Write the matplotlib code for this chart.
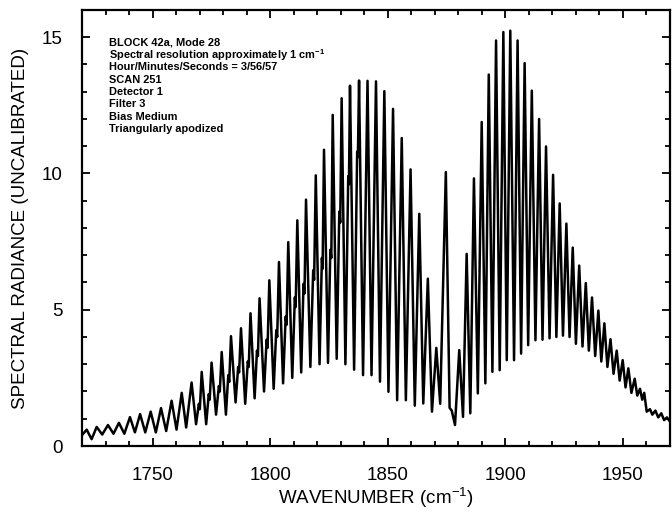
import matplotlib
matplotlib.use('Agg')
import matplotlib.pyplot as plt
import numpy as np
from matplotlib.ticker import MultipleLocator

plt.rcParams['font.family'] = ['Liberation Sans', 'DejaVu Sans']
plt.rcParams['mathtext.fontset'] = 'custom'
plt.rcParams['mathtext.rm'] = 'Liberation Sans'
plt.rcParams['mathtext.bf'] = 'Liberation Sans:bold'

# P branch (peak / trough / satellite vertices)
p_wn = [1720.0, 1722.0, 1724.1, 1726.25, 1728.6, 1731.05, 1733.4, 1735.7, 1738.0, 1740.4,
        1742.5, 1744.7, 1746.9, 1749.2, 1751.4, 1753.6, 1755.8, 1758.1, 1760.2, 1762.4,
        1764.3, 1766.6,
        1768.5, 1769.7, 1770.1, 1770.9,
        1772.8, 1773.9, 1774.3, 1775.1,
        1777.0, 1778.2, 1778.6, 1779.4,
        1781.2, 1782.2, 1782.6, 1783.35,
        1785.3, 1786.4, 1786.8, 1787.6,
        1789.4, 1790.5, 1790.9, 1791.65,
        1793.4, 1794.4, 1794.8, 1795.5,
        1797.4, 1798.5, 1798.9, 1799.65,
        1801.5, 1802.6, 1803.0, 1803.75,
        1805.5, 1806.6, 1807.0, 1807.7,
        1809.4, 1810.5, 1810.85, 1811.55,
        1813.2, 1814.2, 1814.6, 1815.25,
        1817.1, 1818.3, 1818.7, 1819.4,
        1821.0, 1822.0, 1822.3, 1822.9,
        1824.6, 1825.6, 1826.0, 1826.6,
        1828.3, 1829.4, 1829.8, 1830.4,
        1832.0, 1833.2, 1833.5, 1833.95,
        1835.7, 1837.0, 1837.3, 1837.8,
        1839.5, 1841.4, 1843.1, 1845.0, 1846.7, 1848.55, 1850.3, 1852.25,
        1854.0, 1855.95, 1857.7, 1859.7, 1861.5, 1863.4, 1865.1, 1867.05,
        1868.8, 1870.65, 1872.3]
p_rad = [0.40, 0.60, 0.25, 0.70, 0.42, 0.77, 0.45, 0.85, 0.45, 1.06,
         0.50, 1.17, 0.50, 1.26, 0.50, 1.39, 0.55, 1.66, 0.60, 1.95,
         0.68, 2.33,
         0.80, 1.55, 1.35, 2.72,
         0.80, 1.90, 1.70, 3.06,
         1.15, 2.20, 2.00, 3.45,
         1.15, 2.60, 2.35, 4.03,
         1.60, 2.90, 2.70, 4.32,
         1.55, 3.10, 2.90, 4.87,
         1.75, 3.50, 3.30, 5.42,
         2.00, 3.90, 3.60, 6.08,
         2.10, 4.25, 4.00, 6.75,
         2.30, 4.75, 4.45, 7.48,
         2.50, 5.45, 5.10, 8.28,
         2.70, 5.95, 5.60, 9.04,
         2.90, 6.45, 6.10, 9.93,
         3.00, 6.90, 6.50, 10.87,
         3.05, 7.20, 6.90, 12.15,
         3.20, 8.60, 8.20, 12.76,
         3.00, 9.90, 9.60, 13.22,
         2.80, 10.8, 10.6, 13.41,
         2.60, 13.40, 2.60, 13.38, 2.36, 13.02, 1.99, 12.37,
         1.68, 11.30, 1.68, 10.15, 1.48, 8.52, 1.56, 6.14,
         1.26, 3.60, 1.55]

# Q branch
q_wn = [1874.7, 1876.3, 1877.2, 1878.6]
q_rad = [10.05, 1.40, 1.30, 0.77]

# R branch
r_wn = [1880.4, 1882.0, 1883.55, 1885.1, 1886.65, 1888.3, 1889.95, 1891.5, 1892.95, 1894.5,
        1896.05, 1897.6, 1899.15, 1900.6, 1902.1, 1903.7, 1905.2, 1906.7, 1908.2, 1909.7,
        1911.25, 1912.8, 1914.35, 1915.8, 1917.3, 1918.8, 1920.3, 1921.7, 1923.1, 1924.5,
        1925.95, 1927.3, 1928.65, 1930.0, 1931.4, 1932.8, 1934.2, 1935.5, 1936.85, 1938.2,
        1939.55, 1940.8, 1942.1, 1943.4, 1944.7, 1946.0, 1947.35, 1948.6, 1949.9, 1951.1,
        1952.3, 1953.6, 1955.0, 1956.1, 1957.25, 1958.2, 1959.05, 1960.1,
        1961.5, 1962.5, 1963.8, 1965.0, 1966.3, 1967.5, 1968.7, 1970.0]
r_rad = [3.52, 1.07, 7.05, 1.20, 9.82, 1.93, 11.89, 2.30, 13.63, 2.72,
         14.88, 2.78, 15.19, 3.15, 15.24, 3.15, 14.88, 3.39, 14.05, 3.70,
         13.04, 3.88, 12.00, 3.90, 10.99, 3.95, 9.95, 4.00, 8.90, 4.05,
         8.16, 4.00, 7.28, 3.75, 6.62, 3.65, 5.98, 3.50, 5.45, 3.30,
         4.97, 3.10, 4.50, 2.90, 3.92, 2.65, 3.50, 2.40, 3.15, 2.15,
         2.85, 1.95, 2.47, 1.85, 2.10, 1.70, 1.95, 1.26,
         1.35, 1.15, 1.30, 1.05, 1.20, 0.95, 1.05, 0.90]

info_lines = ['BLOCK 42a, Mode 28',
              'Spectral resolution approximately 1 cm$^{\\mathbf{-1}}$',
              'Hour/Minutes/Seconds = 3/56/57',
              'SCAN 251',
              'Detector 1',
              'Filter 3',
              'Bias Medium',
              'Triangularly apodized']

wn = np.concatenate([p_wn, q_wn, r_wn])
rad = np.concatenate([p_rad, q_rad, r_rad])

fig = plt.figure(figsize=(6.72, 5.13), dpi=100)
ax = fig.add_axes([0.122, 0.1306, 0.875, 0.85])
ax.plot(wn, rad, color='black', lw=1.8)

ax.set_xlim(1720, 1970)
ax.set_ylim(0, 16)
ax.set_xticks([1750, 1800, 1850, 1900, 1950])
ax.set_yticks([0, 5, 10, 15])
ax.xaxis.set_minor_locator(MultipleLocator(10))
ax.yaxis.set_minor_locator(MultipleLocator(1))
ax.tick_params(which='both', direction='in', top=True, right=True, width=1.3, labelsize=13.5)
ax.tick_params(which='major', length=6)
ax.tick_params(which='minor', length=3.5)
ax.tick_params(axis='x', which='major', pad=15)
ax.tick_params(axis='y', which='major', pad=14)
for s in ax.spines.values():
    s.set_linewidth(1.6)

ax.set_xlabel('WAVENUMBER (cm$^{-1}$)', fontsize=13.5, labelpad=1)
ax.set_ylabel('SPECTRAL RADIANCE (UNCALIBRATED)', fontsize=13.5, labelpad=9)

# info block, one line at a time so the spacing stays even
for i, line in enumerate(info_lines):
    ax.text(0.046, 0.926 - i * 0.0285, line, transform=ax.transAxes, fontsize=7.9,
            fontweight='bold', va='center', ha='left')

fig.savefig('out.png', dpi=100)
